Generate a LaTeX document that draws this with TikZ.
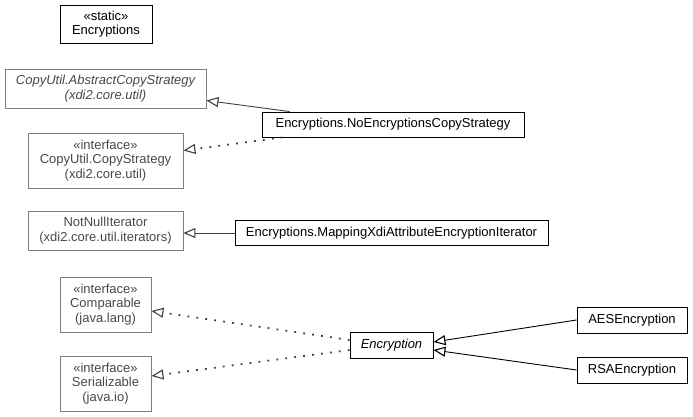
\documentclass[tikz,border=0pt]{standalone}
\usepackage{fontspec}
\setmainfont{Liberation Sans}
\usepackage{xcolor}
\usetikzlibrary{arrows.meta}
\definecolor{extgray}{RGB}{128,128,128}
\definecolor{exttext}{RGB}{72,72,72}
\definecolor{extline}{RGB}{64,64,64}

\tikzset{
  cls/.style={draw, line width=0.9pt, align=center, inner sep=0pt, font=\fontsize{13}{14.3}\selectfont},
  extcls/.style={cls, draw=extgray, text=exttext},
  extends/.style={-{Triangle[open, length=12pt, width=10pt, line width=1.1pt]}, line width=0.9pt},
  implements/.style={extends, dash pattern=on 1.8pt off 7.2pt, line width=1.8pt, color=extline},
}

\begin{document}
\begin{tikzpicture}[x=1pt, y=-1pt]
  \useasboundingbox (0,0) rectangle (693,417);
  % classes of the package
  \node[cls, minimum width=92pt, minimum height=38pt] (encs) at (106,24) {«static»\\Encryptions};
  \node[cls, minimum width=262pt, minimum height=25pt] (nocopy) at (393,124.5) {Encryptions.NoEncryptionsCopyStrategy};
  \node[cls, minimum width=313pt, minimum height=25pt] (mapiter) at (391.5,233) {Encryptions.MappingXdiAttributeEncryptionIterator};
  \node[cls, minimum width=83pt, minimum height=26pt, font=\fontsize{13}{14.3}\selectfont\itshape] (enc) at (391.5,345) {Encryption};
  \node[cls, minimum width=110pt, minimum height=26pt] (aes) at (632,320) {AESEncryption};
  \node[cls, minimum width=110pt, minimum height=26pt] (rsa) at (632,370) {RSAEncryption};
  % external types
  \node[extcls, minimum width=201pt, minimum height=39pt, font=\fontsize{13}{14.3}\selectfont\itshape] (abscopy) at (105.5,88.5) {CopyUtil.AbstractCopyStrategy\\(xdi2.core.util)};
  \node[extcls, minimum width=155pt, minimum height=55pt] (copystrat) at (105.5,160.5) {«interface»\\CopyUtil.CopyStrategy\\(xdi2.core.util)};
  \node[extcls, minimum width=155pt, minimum height=39pt] (notnull) at (105.5,230.5) {NotNullIterator\\(xdi2.core.util.iterators)};
  \node[extcls, minimum width=91pt, minimum height=55pt] (compar) at (105.5,304.5) {«interface»\\Comparable\\(java.lang)};
  \node[extcls, minimum width=91pt, minimum height=55pt] (serial) at (105.5,383.5) {«interface»\\Serializable\\(java.io)};

  \path[extends, color=extline]
  ([xshift=28pt]nocopy.north west) edge ([yshift=-12pt]abscopy.east)
  (mapiter.west) edge (mapiter.west -| notnull.east)
  ;
  \path[implements]
  ([xshift=21pt]nocopy.south west) edge ([yshift=10pt]copystrat.east)
  ([yshift=5pt]enc.west) edge ([yshift=-6.5pt]compar.east)
  ([yshift=-5pt]enc.west) edge ([yshift=7.5pt]serial.east)
  ;
  \path[extends]
  (aes.west) edge ([yshift=3pt]enc.east)
  (rsa.west) edge ([yshift=-5pt]enc.east)
  ;
\end{tikzpicture}
\end{document}
